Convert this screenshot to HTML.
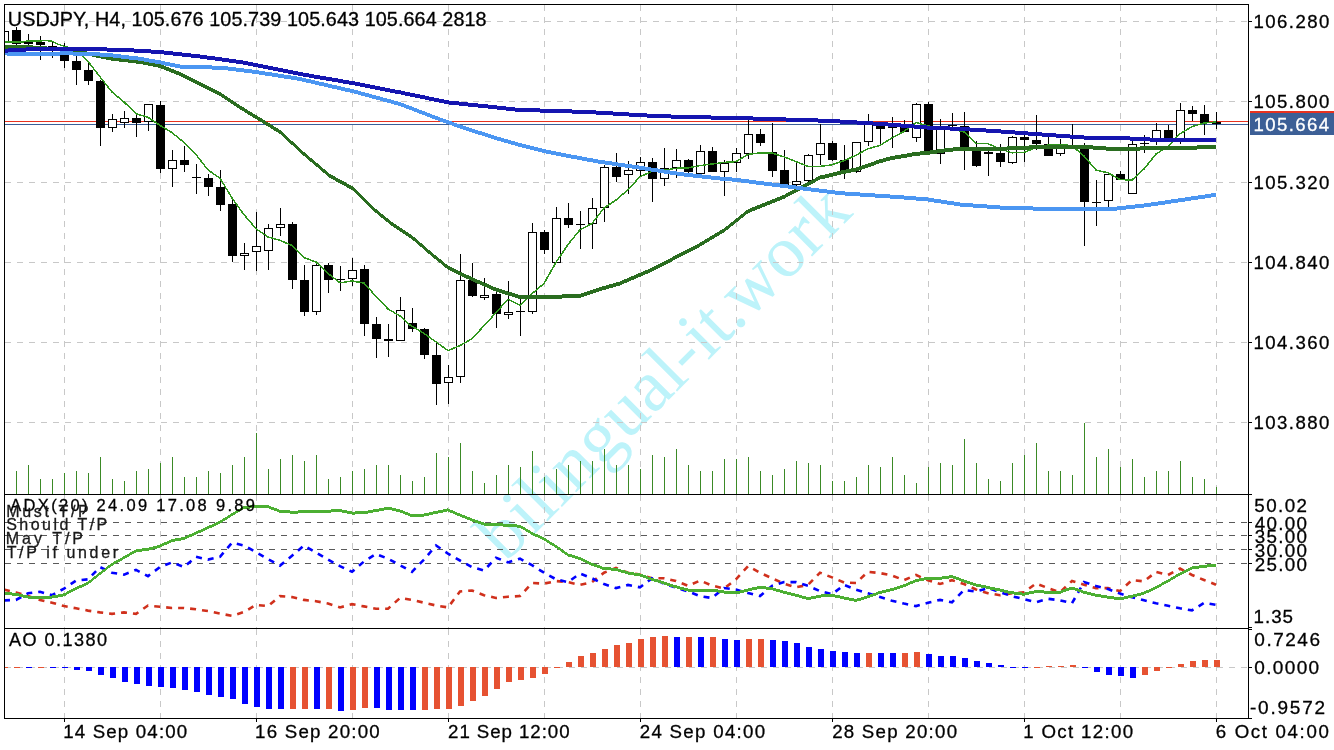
<!DOCTYPE html>
<html><head><meta charset="utf-8"><style>
html,body{margin:0;padding:0;background:#fff;width:1334px;height:750px;overflow:hidden}
svg{position:absolute;left:0;top:0;will-change:transform}
.t{position:absolute;font-family:"Liberation Sans",sans-serif;white-space:pre;line-height:1;color:#000}
</style></head><body>
<svg width="1334" height="750" viewBox="0 0 1334 750">
<defs>
<clipPath id="clipMain"><rect x="5" y="5" width="1243" height="489"/></clipPath>
<clipPath id="clipAdx"><rect x="5" y="495" width="1243" height="133"/></clipPath>
<clipPath id="clipAll"><rect x="5" y="5" width="1243" height="713"/></clipPath>
</defs>
<g clip-path="url(#clipAll)"><text x="0" y="0" transform="translate(505.8 562.9) rotate(-45.03)" font-family="Liberation Serif, serif" font-size="73.5" fill="#bdf3fa" letter-spacing="0">bilingual-it.<tspan dx="-3">work</tspan></text></g>
<g stroke="#c8c8c8" stroke-width="1" stroke-dasharray="6 6" fill="none" shape-rendering="crispEdges"><path d="M5 21.5H1248" /><path d="M5 101.5H1248" /><path d="M5 182.5H1248" /><path d="M5 262.5H1248" /><path d="M5 342.5H1248" /><path d="M5 422.5H1248" /><path d="M64.5 5V494" /><path d="M64.5 495V628" /><path d="M64.5 629V718" /><path d="M160.5 5V494" /><path d="M160.5 495V628" /><path d="M160.5 629V718" /><path d="M256.5 5V494" /><path d="M256.5 495V628" /><path d="M256.5 629V718" /><path d="M352.5 5V494" /><path d="M352.5 495V628" /><path d="M352.5 629V718" /><path d="M448.5 5V494" /><path d="M448.5 495V628" /><path d="M448.5 629V718" /><path d="M544.5 5V494" /><path d="M544.5 495V628" /><path d="M544.5 629V718" /><path d="M640.5 5V494" /><path d="M640.5 495V628" /><path d="M640.5 629V718" /><path d="M736.5 5V494" /><path d="M736.5 495V628" /><path d="M736.5 629V718" /><path d="M832.5 5V494" /><path d="M832.5 495V628" /><path d="M832.5 629V718" /><path d="M928.5 5V494" /><path d="M928.5 495V628" /><path d="M928.5 629V718" /><path d="M1024.5 5V494" /><path d="M1024.5 495V628" /><path d="M1024.5 629V718" /><path d="M1120.5 5V494" /><path d="M1120.5 495V628" /><path d="M1120.5 629V718" /><path d="M1216.5 5V494" /><path d="M1216.5 495V628" /><path d="M1216.5 629V718" /><path d="M5 667.5H1248" /></g>
<g stroke="#5a5a5a" stroke-width="1" stroke-dasharray="6 6" fill="none" shape-rendering="crispEdges"><path d="M5 522.5H1248" /><path d="M5 535.5H1248" /><path d="M5 549.5H1248" /><path d="M5 563.5H1248" /></g>
<rect x="5" y="121" width="1243" height="1" fill="#e8321f"/>
<rect x="5" y="124" width="1243" height="1" fill="#3a5f98"/>
<path d="M16.5 471V494M28.5 465V494M40.5 479V494M52.5 479V494M64.5 473V494M76.5 471V494M88.5 473V494M100.5 457V494M112.5 479V494M124.5 481V494M136.5 471V494M148.5 469V494M160.5 463V494M172.5 457V494M184.5 477V494M196.5 477V494M208.5 471V494M220.5 473V494M232.5 465V494M244.5 457V494M256.5 433V494M268.5 469V494M280.5 459V494M292.5 455V494M304.5 461V494M316.5 455V494M328.5 479V494M340.5 477V494M352.5 471V494M364.5 469V494M376.5 465V494M388.5 465V494M400.5 475V494M412.5 481V494M424.5 477V494M436.5 453V494M448.5 457V494M460.5 443V494M472.5 471V494M484.5 483V494M496.5 475V494M508.5 465V494M520.5 467V494M532.5 451V494M544.5 477V494M556.5 469V494M568.5 465V494M580.5 461V494M592.5 461V494M604.5 449V494M616.5 465V494M628.5 465V494M640.5 469V494M652.5 455V494M664.5 457V494M676.5 449V494M688.5 465V494M700.5 471V494M712.5 471V494M724.5 459V494M736.5 459V494M748.5 457V494M760.5 471V494M772.5 475V494M784.5 469V494M796.5 461V494M808.5 463V494M820.5 465V494M832.5 481V494M844.5 481V494M856.5 477V494M868.5 465V494M880.5 467V494M892.5 457V494M904.5 475V494M916.5 483V494M928.5 467V494M940.5 463V494M952.5 465V494M964.5 439V494M976.5 463V494M988.5 479V494M1000.5 481V494M1012.5 463V494M1024.5 455V494M1036.5 443V494M1048.5 471V494M1060.5 471V494M1072.5 475V494M1084.5 423V494M1096.5 457V494M1108.5 449V494M1120.5 467V494M1132.5 459V494M1144.5 477V494M1156.5 471V494M1168.5 471V494M1180.5 461V494M1192.5 477V494M1204.5 479V494M1216.5 487V494" stroke="#3b8a26" stroke-width="1" fill="none" shape-rendering="crispEdges"/>
<g clip-path="url(#clipMain)" shape-rendering="crispEdges"><rect x="4" y="29" width="1" height="16" fill="#000"/><rect x="0.5" y="31.5" width="8" height="11" fill="#fff" stroke="#000" stroke-width="1"/><rect x="16" y="27" width="1" height="19" fill="#000"/><rect x="12" y="30" width="9" height="14" fill="#000"/><rect x="28" y="34" width="1" height="12" fill="#000"/><rect x="24" y="42" width="9" height="2" fill="#000"/><rect x="40" y="36" width="1" height="24" fill="#000"/><rect x="36" y="42" width="9" height="3" fill="#000"/><rect x="52" y="42" width="1" height="16" fill="#000"/><rect x="48" y="46" width="9" height="1" fill="#000"/><rect x="64" y="43" width="1" height="25" fill="#000"/><rect x="60" y="47" width="9" height="14" fill="#000"/><rect x="76" y="56" width="1" height="29" fill="#000"/><rect x="72" y="61" width="9" height="9" fill="#000"/><rect x="88" y="62" width="1" height="23" fill="#000"/><rect x="84" y="70" width="9" height="11" fill="#000"/><rect x="100" y="80" width="1" height="66" fill="#000"/><rect x="96" y="81" width="9" height="47" fill="#000"/><rect x="112" y="114" width="1" height="18" fill="#000"/><rect x="108.5" y="119.5" width="8" height="8" fill="#fff" stroke="#000" stroke-width="1"/><rect x="124" y="111" width="1" height="17" fill="#000"/><rect x="120.5" y="118.5" width="8" height="4" fill="#fff" stroke="#000" stroke-width="1"/><rect x="136" y="115" width="1" height="22" fill="#000"/><rect x="132" y="118" width="9" height="5" fill="#000"/><rect x="148" y="104" width="1" height="27" fill="#000"/><rect x="144.5" y="104.5" width="8" height="17" fill="#fff" stroke="#000" stroke-width="1"/><rect x="160" y="101" width="1" height="72" fill="#000"/><rect x="156" y="105" width="9" height="64" fill="#000"/><rect x="172" y="150" width="1" height="37" fill="#000"/><rect x="168.5" y="160.5" width="8" height="8" fill="#fff" stroke="#000" stroke-width="1"/><rect x="184" y="146" width="1" height="26" fill="#000"/><rect x="180" y="160" width="9" height="5" fill="#000"/><rect x="196" y="164" width="1" height="30" fill="#000"/><rect x="192" y="177" width="9" height="1" fill="#000"/><rect x="208" y="174" width="1" height="22" fill="#000"/><rect x="204" y="178" width="9" height="9" fill="#000"/><rect x="220" y="170" width="1" height="41" fill="#000"/><rect x="216" y="187" width="9" height="18" fill="#000"/><rect x="232" y="200" width="1" height="62" fill="#000"/><rect x="228" y="204" width="9" height="52" fill="#000"/><rect x="244" y="243" width="1" height="27" fill="#000"/><rect x="240.5" y="253.5" width="8" height="2" fill="#fff" stroke="#000" stroke-width="1"/><rect x="256" y="212" width="1" height="59" fill="#000"/><rect x="252.5" y="246.5" width="8" height="5" fill="#fff" stroke="#000" stroke-width="1"/><rect x="268" y="224" width="1" height="46" fill="#000"/><rect x="264.5" y="228.5" width="8" height="22" fill="#fff" stroke="#000" stroke-width="1"/><rect x="280" y="208" width="1" height="28" fill="#000"/><rect x="276.5" y="224.5" width="8" height="3" fill="#fff" stroke="#000" stroke-width="1"/><rect x="292" y="222" width="1" height="67" fill="#000"/><rect x="288" y="224" width="9" height="56" fill="#000"/><rect x="304" y="265" width="1" height="51" fill="#000"/><rect x="300" y="280" width="9" height="32" fill="#000"/><rect x="316" y="263" width="1" height="52" fill="#000"/><rect x="312.5" y="265.5" width="8" height="46" fill="#fff" stroke="#000" stroke-width="1"/><rect x="328" y="263" width="1" height="30" fill="#000"/><rect x="324" y="265" width="9" height="15" fill="#000"/><rect x="340" y="266" width="1" height="25" fill="#000"/><rect x="336" y="279" width="9" height="1" fill="#000"/><rect x="352" y="258" width="1" height="28" fill="#000"/><rect x="348.5" y="270.5" width="8" height="8" fill="#fff" stroke="#000" stroke-width="1"/><rect x="364" y="265" width="1" height="71" fill="#000"/><rect x="360" y="269" width="9" height="55" fill="#000"/><rect x="376" y="317" width="1" height="41" fill="#000"/><rect x="372" y="324" width="9" height="15" fill="#000"/><rect x="388" y="324" width="1" height="33" fill="#000"/><rect x="384" y="339" width="9" height="2" fill="#000"/><rect x="400" y="297" width="1" height="44" fill="#000"/><rect x="396.5" y="310.5" width="8" height="30" fill="#fff" stroke="#000" stroke-width="1"/><rect x="412" y="308" width="1" height="24" fill="#000"/><rect x="408" y="323" width="9" height="6" fill="#000"/><rect x="424" y="328" width="1" height="31" fill="#000"/><rect x="420" y="329" width="9" height="26" fill="#000"/><rect x="436" y="341" width="1" height="64" fill="#000"/><rect x="432" y="355" width="9" height="29" fill="#000"/><rect x="448" y="365" width="1" height="39" fill="#000"/><rect x="444.5" y="377.5" width="8" height="5" fill="#fff" stroke="#000" stroke-width="1"/><rect x="460" y="254" width="1" height="129" fill="#000"/><rect x="456.5" y="280.5" width="8" height="96" fill="#fff" stroke="#000" stroke-width="1"/><rect x="472" y="263" width="1" height="34" fill="#000"/><rect x="468" y="280" width="9" height="16" fill="#000"/><rect x="484" y="278" width="1" height="22" fill="#000"/><rect x="480.5" y="295.5" width="8" height="2" fill="#fff" stroke="#000" stroke-width="1"/><rect x="496" y="292" width="1" height="36" fill="#000"/><rect x="492" y="294" width="9" height="20" fill="#000"/><rect x="508" y="281" width="1" height="38" fill="#000"/><rect x="504.5" y="312.5" width="8" height="2" fill="#fff" stroke="#000" stroke-width="1"/><rect x="520" y="299" width="1" height="37" fill="#000"/><rect x="516" y="311" width="9" height="1" fill="#000"/><rect x="532" y="223" width="1" height="91" fill="#000"/><rect x="528.5" y="232.5" width="8" height="79" fill="#fff" stroke="#000" stroke-width="1"/><rect x="544" y="230" width="1" height="24" fill="#000"/><rect x="540" y="232" width="9" height="18" fill="#000"/><rect x="556" y="207" width="1" height="56" fill="#000"/><rect x="552.5" y="218.5" width="8" height="44" fill="#fff" stroke="#000" stroke-width="1"/><rect x="568" y="203" width="1" height="25" fill="#000"/><rect x="564" y="218" width="9" height="7" fill="#000"/><rect x="580" y="211" width="1" height="38" fill="#000"/><rect x="576" y="224" width="9" height="1" fill="#000"/><rect x="592" y="198" width="1" height="51" fill="#000"/><rect x="588.5" y="208.5" width="8" height="15" fill="#fff" stroke="#000" stroke-width="1"/><rect x="604" y="165" width="1" height="57" fill="#000"/><rect x="600.5" y="167.5" width="8" height="40" fill="#fff" stroke="#000" stroke-width="1"/><rect x="616" y="153" width="1" height="29" fill="#000"/><rect x="612" y="167" width="9" height="10" fill="#000"/><rect x="628" y="161" width="1" height="33" fill="#000"/><rect x="624.5" y="170.5" width="8" height="4" fill="#fff" stroke="#000" stroke-width="1"/><rect x="640" y="157" width="1" height="19" fill="#000"/><rect x="636.5" y="162.5" width="8" height="8" fill="#fff" stroke="#000" stroke-width="1"/><rect x="652" y="158" width="1" height="44" fill="#000"/><rect x="648" y="162" width="9" height="17" fill="#000"/><rect x="664" y="148" width="1" height="38" fill="#000"/><rect x="660.5" y="168.5" width="8" height="10" fill="#fff" stroke="#000" stroke-width="1"/><rect x="676" y="149" width="1" height="29" fill="#000"/><rect x="672.5" y="160.5" width="8" height="7" fill="#fff" stroke="#000" stroke-width="1"/><rect x="688" y="159" width="1" height="16" fill="#000"/><rect x="684" y="160" width="9" height="12" fill="#000"/><rect x="700" y="145" width="1" height="30" fill="#000"/><rect x="696.5" y="151.5" width="8" height="22" fill="#fff" stroke="#000" stroke-width="1"/><rect x="712" y="147" width="1" height="25" fill="#000"/><rect x="708" y="151" width="9" height="21" fill="#000"/><rect x="724" y="160" width="1" height="36" fill="#000"/><rect x="720.5" y="163.5" width="8" height="8" fill="#fff" stroke="#000" stroke-width="1"/><rect x="736" y="148" width="1" height="24" fill="#000"/><rect x="732.5" y="153.5" width="8" height="9" fill="#fff" stroke="#000" stroke-width="1"/><rect x="748" y="119" width="1" height="40" fill="#000"/><rect x="744.5" y="134.5" width="8" height="19" fill="#fff" stroke="#000" stroke-width="1"/><rect x="760" y="129" width="1" height="17" fill="#000"/><rect x="756" y="134" width="9" height="9" fill="#000"/><rect x="772" y="123" width="1" height="54" fill="#000"/><rect x="768" y="152" width="9" height="19" fill="#000"/><rect x="784" y="150" width="1" height="35" fill="#000"/><rect x="780" y="170" width="9" height="15" fill="#000"/><rect x="796" y="161" width="1" height="25" fill="#000"/><rect x="792.5" y="181.5" width="8" height="3" fill="#fff" stroke="#000" stroke-width="1"/><rect x="808" y="154" width="1" height="30" fill="#000"/><rect x="804.5" y="155.5" width="8" height="25" fill="#fff" stroke="#000" stroke-width="1"/><rect x="820" y="124" width="1" height="41" fill="#000"/><rect x="816.5" y="143.5" width="8" height="11" fill="#fff" stroke="#000" stroke-width="1"/><rect x="832" y="141" width="1" height="20" fill="#000"/><rect x="828" y="143" width="9" height="17" fill="#000"/><rect x="844" y="145" width="1" height="34" fill="#000"/><rect x="840" y="160" width="9" height="11" fill="#000"/><rect x="856" y="142" width="1" height="31" fill="#000"/><rect x="852.5" y="142.5" width="8" height="29" fill="#fff" stroke="#000" stroke-width="1"/><rect x="868" y="114" width="1" height="32" fill="#000"/><rect x="864.5" y="124.5" width="8" height="17" fill="#fff" stroke="#000" stroke-width="1"/><rect x="880" y="123" width="1" height="22" fill="#000"/><rect x="876" y="124" width="9" height="5" fill="#000"/><rect x="892" y="117" width="1" height="31" fill="#000"/><rect x="888" y="126" width="9" height="2" fill="#000"/><rect x="904" y="120" width="1" height="12" fill="#000"/><rect x="900" y="127" width="9" height="5" fill="#000"/><rect x="916" y="103" width="1" height="39" fill="#000"/><rect x="912.5" y="104.5" width="8" height="33" fill="#fff" stroke="#000" stroke-width="1"/><rect x="928" y="102" width="1" height="50" fill="#000"/><rect x="924" y="104" width="9" height="48" fill="#000"/><rect x="940" y="119" width="1" height="45" fill="#000"/><rect x="936.5" y="129.5" width="8" height="24" fill="#fff" stroke="#000" stroke-width="1"/><rect x="952" y="113" width="1" height="14" fill="#000"/><rect x="948" y="125" width="9" height="1" fill="#000"/><rect x="964" y="112" width="1" height="58" fill="#000"/><rect x="960" y="126" width="9" height="21" fill="#000"/><rect x="976" y="141" width="1" height="26" fill="#000"/><rect x="972" y="150" width="9" height="16" fill="#000"/><rect x="988" y="149" width="1" height="27" fill="#000"/><rect x="984" y="152" width="9" height="2" fill="#000"/><rect x="1000" y="144" width="1" height="23" fill="#000"/><rect x="996" y="153" width="9" height="9" fill="#000"/><rect x="1012" y="136" width="1" height="28" fill="#000"/><rect x="1008.5" y="137.5" width="8" height="25" fill="#fff" stroke="#000" stroke-width="1"/><rect x="1024" y="134" width="1" height="28" fill="#000"/><rect x="1020" y="137" width="9" height="3" fill="#000"/><rect x="1036" y="115" width="1" height="35" fill="#000"/><rect x="1032" y="140" width="9" height="4" fill="#000"/><rect x="1048" y="137" width="1" height="19" fill="#000"/><rect x="1044" y="144" width="9" height="12" fill="#000"/><rect x="1060" y="139" width="1" height="17" fill="#000"/><rect x="1056.5" y="144.5" width="8" height="9" fill="#fff" stroke="#000" stroke-width="1"/><rect x="1072" y="124" width="1" height="25" fill="#000"/><rect x="1068" y="146" width="9" height="1" fill="#000"/><rect x="1084" y="143" width="1" height="103" fill="#000"/><rect x="1080" y="147" width="9" height="55" fill="#000"/><rect x="1096" y="180" width="1" height="46" fill="#000"/><rect x="1092" y="202" width="9" height="1" fill="#000"/><rect x="1108" y="172" width="1" height="35" fill="#000"/><rect x="1104.5" y="174.5" width="8" height="26" fill="#fff" stroke="#000" stroke-width="1"/><rect x="1120" y="171" width="1" height="9" fill="#000"/><rect x="1116" y="174" width="9" height="6" fill="#000"/><rect x="1132" y="140" width="1" height="54" fill="#000"/><rect x="1128.5" y="144.5" width="8" height="49" fill="#fff" stroke="#000" stroke-width="1"/><rect x="1144" y="135" width="1" height="18" fill="#000"/><rect x="1140" y="143" width="9" height="1" fill="#000"/><rect x="1156" y="123" width="1" height="22" fill="#000"/><rect x="1152.5" y="130.5" width="8" height="11" fill="#fff" stroke="#000" stroke-width="1"/><rect x="1168" y="125" width="1" height="17" fill="#000"/><rect x="1164" y="130" width="9" height="8" fill="#000"/><rect x="1180" y="103" width="1" height="41" fill="#000"/><rect x="1176.5" y="110.5" width="8" height="29" fill="#fff" stroke="#000" stroke-width="1"/><rect x="1192" y="106" width="1" height="15" fill="#000"/><rect x="1188" y="110" width="9" height="4" fill="#000"/><rect x="1204" y="105" width="1" height="30" fill="#000"/><rect x="1200" y="114" width="9" height="9" fill="#000"/><rect x="1216" y="112" width="1" height="17" fill="#000"/><rect x="1212" y="122" width="9" height="2" fill="#000"/></g>
<g clip-path="url(#clipMain)" stroke="none" shape-rendering="crispEdges">
<polyline points="4,41.8 24,41.8 27,40.9 48,40.7 52,41.3 58,44.2 64,46.2 76,49.8 88,61.5 100,76.8 112,92 124,102 136,113.7 148,117.3 160,125.4 172,132.6 184,142.5 196,154.6 208,169.9 220,178.3 232,197.9 244,214.7 256,228.7 268,237 280,240.3 292,245.5 304,257.6 316,262 328,273.5 340,282.8 352,281 364,283 376,296.5 388,309 400,316 410,325 424,333.5 436,341.9 448,350.6 460,345.6 472,338.7 489,320.4 508,299.2 520,305.4 532,293.8 544,283.4 556,262.4 568,244.5 580,229.8 592,223.5 604,208 616,200 628,189.7 640,176.7 652,171.4 664,170.1 676,168.3 688,167.9 700,165.6 724,162.4 736,161.6 748,154.4 760,152.8 772,153.1 784,156.8 796,161.6 808,166.4 820,166.4 832,164.8 844,160.8 856,155.2 868,148.8 880,145.4 892,137.9 904,131.4 916,122.5 928,126 940,128 952,129 964,131.9 976,143.7 988,143.7 1000,148.9 1012,152.8 1024,152.3 1036,147.6 1048,145 1060,144.4 1072,145.7 1084,156 1096,170 1108,172.8 1120,179.6 1132,180 1144,169 1156,154 1168,146.5 1180,133.7 1192,126.7 1204,123 1216,122" fill="none" stroke="#2f961c" stroke-width="1.5" shape-rendering="crispEdges"/>
<polygon points="4,45.10 28,45.10 64,47.80 82,50.50 110,56.40 140,60.00 160,64.00 180,72.00 200,82.00 220,92.00 240,105.40 256,115.00 264,120.00 280,130.00 304,152.00 330,174.00 352,186.00 376,209.00 390,220.50 412,235.20 430,250.90 448,265.60 472,277.20 496,287.60 520,295.20 544,295.00 580,294.00 600,287.20 620,281.40 652,267.60 700,242.80 724,228.40 748,209.20 772,199.60 784,194.80 796,188.40 808,182.00 820,175.60 840,170.80 856,167.60 868,163.60 880,159.20 892,156.00 904,154.00 916,151.80 928,150.80 940,149.00 960,146.70 1000,146.80 1050,144.60 1076,145.00 1090,145.30 1120,147.50 1150,146.00 1216,145.30 1216,149.30 1150,150.00 1120,151.50 1090,149.30 1076,149.00 1050,148.60 1000,150.80 960,150.70 940,153.00 928,154.80 916,155.80 904,158.00 892,160.00 880,163.20 868,167.60 856,171.60 840,174.80 820,179.60 808,186.00 796,192.40 784,198.80 772,203.60 748,213.20 724,232.40 700,246.80 652,271.60 620,285.40 600,291.20 580,298.00 544,299.00 520,299.20 496,291.60 472,281.20 448,269.60 430,254.90 412,239.20 390,224.50 376,213.00 352,190.00 330,178.00 304,156.00 280,134.00 264,124.00 256,119.00 240,109.40 220,96.00 200,86.00 180,76.00 160,68.00 140,64.00 110,60.40 82,54.50 64,51.80 28,49.10 4,49.10" fill="#2a6d20"/>
<polygon points="4,51.40 28,52.30 64,51.40 88,51.70 110,53.20 140,56.80 160,60.40 180,64.50 200,65.00 224,66.00 256,70.00 300,77.00 352,89.00 400,102.00 440,117.40 460,124.50 480,131.00 500,137.30 520,143.00 548,149.90 580,156.20 600,159.80 640,165.70 680,172.00 720,176.50 736,177.90 790,184.80 840,191.20 900,195.20 928,197.50 960,202.50 1000,205.50 1036,206.60 1090,207.00 1117,206.50 1140,204.00 1168,200.00 1216,192.80 1216,196.80 1168,204.00 1140,208.00 1117,210.50 1090,211.00 1036,210.60 1000,209.50 960,206.50 928,201.50 900,199.20 840,195.20 790,188.80 736,181.90 720,180.50 680,176.00 640,169.70 600,163.80 580,160.20 548,153.90 520,147.00 500,141.30 480,135.00 460,128.50 440,121.40 400,106.00 352,93.00 300,81.00 256,74.00 224,70.00 200,69.00 180,68.50 160,64.40 140,60.80 110,57.20 88,55.70 64,55.40 28,56.30 4,55.40" fill="#4b96f2"/>
<polygon points="4,48.70 28,47.40 64,46.90 88,46.90 128,48.20 160,50.00 200,54.50 240,60.00 256,63.00 300,72.00 352,81.00 400,90.40 448,100.40 480,103.70 520,108.00 560,109.00 600,110.70 640,113.20 680,114.90 720,115.70 760,116.70 830,118.90 880,121.90 928,125.60 960,126.90 1000,129.40 1050,133.10 1090,135.90 1120,136.00 1150,137.50 1216,138.10 1216,142.10 1150,141.50 1120,140.00 1090,139.90 1050,137.10 1000,133.40 960,130.90 928,129.60 880,125.90 830,122.90 760,120.70 720,119.70 680,118.90 640,117.20 600,114.70 560,113.00 520,112.00 480,107.70 448,104.40 400,94.40 352,85.00 300,76.00 256,67.00 240,64.00 200,58.50 160,54.00 128,52.20 88,50.90 64,50.90 28,51.40 4,52.70" fill="#1515b0"/>
</g>
<g clip-path="url(#clipAdx)" fill="none">
<polyline points="4,589.6 16,592.4 28,596.1 40,599.9 52,602.7 64,606.1 76,608.3 88,610.6 100,612.4 112,613.9 124,612.4 136,613.9 148,605.5 160,606.8 172,608 184,608 196,609.3 208,611.1 220,613.6 232,615.8 244,612 256,604.9 268,606.1 280,596.1 292,597.1 304,599.9 316,601.2 328,603.6 340,607.4 352,604.2 364,606.4 376,608.7 388,608.7 400,598 412,599.9 424,602.7 436,605.5 448,607.4 460,591.5 472,590.5 484,595.2 496,598 508,596.7 520,596.1 532,583 544,583.6 556,581.1 568,582.1 580,584.9 592,582.1 604,572.7 616,568 628,572.7 640,574.6 652,578.3 664,578.3 676,581.1 688,585.8 700,580.6 712,585.5 724,588.6 736,579.3 748,566.2 760,572.7 772,578.3 784,583.6 796,587.3 808,584.9 820,572.7 832,577.4 844,582.5 856,583 868,571.8 880,573.1 892,575.5 904,580.2 916,575 928,580.2 940,584 952,580.2 964,584 976,589.5 988,593.2 1000,595.2 1012,593.2 1024,592.2 1036,583.5 1048,588.1 1060,592.2 1072,581 1084,584.7 1096,588.1 1108,588.1 1120,591.1 1132,580 1144,581.4 1156,571.9 1168,575 1180,568.5 1192,575 1204,580 1216,584.7" stroke="#d0301c" stroke-width="2.6" stroke-dasharray="6 6"/>
<polyline points="4,600.4 16,599.9 28,593.3 40,591.8 52,595.2 64,588.6 76,580.6 88,579.3 100,567.1 112,572.7 124,574.6 136,569.9 148,576.1 160,567.1 172,562.4 184,567.1 196,556.8 208,559.6 220,556.8 232,542.7 244,545.5 256,552.1 268,559.2 280,565.6 292,555.8 304,545.5 316,552.5 328,559.6 340,566.2 352,571.8 364,561.5 376,554 388,558.7 400,565.2 412,571.8 424,559.6 436,545.5 448,553.6 460,560.5 472,567.1 484,570.6 496,557.7 508,562.4 520,558.7 532,565.2 544,572.7 556,579.3 568,582.1 580,573.6 592,578.3 604,584 616,588.1 628,584.9 640,587.3 652,578.3 664,583.6 676,587.7 688,591.5 700,596.1 712,598 724,588 736,589.6 748,593 760,596.1 772,585.8 784,582.1 796,582.1 808,585.8 820,591.1 832,594.3 844,584.9 856,589.6 868,593.3 880,597.1 892,600.8 904,603.6 916,606.1 928,602.7 940,599.9 952,602.3 964,590 976,591.6 988,588.1 1000,592.2 1012,596.2 1024,599.2 1036,602.3 1048,598.8 1060,600.3 1072,603.3 1084,582 1096,586.1 1108,589.1 1120,593.6 1132,597.2 1144,600.3 1156,603.3 1168,605.7 1180,608.3 1192,610.4 1204,602.9 1216,604.9" stroke="#0000ff" stroke-width="2.6" stroke-dasharray="6 6"/>
<polygon points="4,591.80 16,592.80 28,595.60 40,595.60 52,595.60 64,593.30 76,587.10 88,581.50 100,572.10 112,562.80 124,556.20 136,549.30 148,547.80 160,544.60 172,539.00 184,536.90 196,531.50 208,526.20 220,520.60 232,513.10 244,505.80 256,505.20 268,505.20 280,509.70 292,510.70 304,510.30 316,509.90 328,509.70 340,509.00 352,511.60 364,511.20 376,509.00 388,506.70 400,509.40 412,514.20 424,513.50 436,510.90 448,508.40 460,513.70 472,518.40 484,522.50 496,522.90 508,524.00 520,524.70 532,531.90 544,537.50 556,545.00 568,553.40 580,557.20 592,562.80 604,567.10 616,567.80 628,571.60 640,573.50 652,577.80 664,581.50 676,585.30 688,588.50 700,588.50 712,588.50 724,590.50 736,591.40 748,588.50 760,585.80 772,587.10 784,590.90 796,593.70 808,597.10 820,594.60 832,593.70 844,596.50 856,598.90 868,595.20 880,590.90 892,588.10 904,584.30 916,579.10 928,576.80 940,576.80 952,575.00 964,579.50 976,583.60 988,586.00 1000,588.60 1012,591.30 1024,592.70 1036,590.10 1048,590.70 1060,590.70 1072,586.60 1084,590.70 1096,593.70 1108,595.70 1120,597.30 1132,594.70 1144,591.70 1156,586.00 1168,579.50 1180,572.40 1192,566.40 1204,564.80 1216,563.70 1216,566.70 1204,567.80 1192,569.40 1180,575.40 1168,582.50 1156,589.00 1144,594.70 1132,597.70 1120,600.30 1108,598.70 1096,596.70 1084,593.70 1072,589.60 1060,593.70 1048,593.70 1036,593.10 1024,595.70 1012,594.30 1000,591.60 988,589.00 976,586.60 964,582.50 952,578.00 940,579.80 928,579.80 916,582.10 904,587.30 892,591.10 880,593.90 868,598.20 856,601.90 844,599.50 832,596.70 820,597.60 808,600.10 796,596.70 784,593.90 772,590.10 760,588.80 748,591.50 736,594.40 724,593.50 712,591.50 700,591.50 688,591.50 676,588.30 664,584.50 652,580.80 640,576.50 628,574.60 616,570.80 604,570.10 592,565.80 580,560.20 568,556.40 556,548.00 544,540.50 532,534.90 520,527.70 508,527.00 496,525.90 484,525.50 472,521.40 460,516.70 448,511.40 436,513.90 424,516.50 412,517.20 400,512.40 388,509.70 376,512.00 364,514.20 352,514.60 340,512.00 328,512.70 316,512.90 304,513.30 292,513.70 280,512.70 268,508.20 256,508.20 244,508.80 232,516.10 220,523.60 208,529.20 196,534.50 184,539.90 172,542.00 160,547.60 148,550.80 136,552.30 124,559.20 112,565.80 100,575.10 88,584.50 76,590.10 64,596.30 52,598.60 40,598.60 28,598.60 16,595.80 4,594.80" fill="#4caf32" stroke="none" shape-rendering="crispEdges"/>
</g>
<g shape-rendering="crispEdges"><rect x="5" y="667" width="3" height="1" fill="#e65232"/><rect x="14" y="667" width="6" height="1" fill="#e65232"/><rect x="26" y="667" width="6" height="1" fill="#0000ff"/><rect x="38" y="667" width="6" height="1" fill="#e65232"/><rect x="50" y="667" width="6" height="1" fill="#0000ff"/><rect x="62" y="667" width="6" height="1" fill="#0000ff"/><rect x="74" y="667" width="6" height="3" fill="#0000ff"/><rect x="86" y="667" width="6" height="4" fill="#0000ff"/><rect x="98" y="667" width="6" height="8" fill="#0000ff"/><rect x="110" y="667" width="6" height="11" fill="#0000ff"/><rect x="122" y="667" width="6" height="15" fill="#0000ff"/><rect x="134" y="667" width="6" height="17" fill="#0000ff"/><rect x="146" y="667" width="6" height="19" fill="#0000ff"/><rect x="158" y="667" width="6" height="20" fill="#0000ff"/><rect x="170" y="667" width="6" height="21" fill="#0000ff"/><rect x="182" y="667" width="6" height="23" fill="#0000ff"/><rect x="194" y="667" width="6" height="25" fill="#0000ff"/><rect x="206" y="667" width="6" height="28" fill="#0000ff"/><rect x="218" y="667" width="6" height="30" fill="#0000ff"/><rect x="230" y="667" width="6" height="32" fill="#0000ff"/><rect x="242" y="667" width="6" height="37" fill="#0000ff"/><rect x="254" y="667" width="6" height="40" fill="#0000ff"/><rect x="266" y="667" width="6" height="42" fill="#0000ff"/><rect x="278" y="667" width="6" height="42" fill="#0000ff"/><rect x="290" y="667" width="6" height="42" fill="#e65232"/><rect x="302" y="667" width="6" height="42" fill="#e65232"/><rect x="314" y="667" width="6" height="42" fill="#0000ff"/><rect x="326" y="667" width="6" height="42" fill="#e65232"/><rect x="338" y="667" width="6" height="44" fill="#0000ff"/><rect x="350" y="667" width="6" height="43" fill="#e65232"/><rect x="362" y="667" width="6" height="41" fill="#e65232"/><rect x="374" y="667" width="6" height="41" fill="#0000ff"/><rect x="386" y="667" width="6" height="43" fill="#0000ff"/><rect x="398" y="667" width="6" height="43" fill="#0000ff"/><rect x="410" y="667" width="6" height="43" fill="#0000ff"/><rect x="422" y="667" width="6" height="43" fill="#e65232"/><rect x="434" y="667" width="6" height="42" fill="#e65232"/><rect x="446" y="667" width="6" height="42" fill="#e65232"/><rect x="458" y="667" width="6" height="39" fill="#e65232"/><rect x="470" y="667" width="6" height="34" fill="#e65232"/><rect x="482" y="667" width="6" height="29" fill="#e65232"/><rect x="494" y="667" width="6" height="22" fill="#e65232"/><rect x="506" y="667" width="6" height="15" fill="#e65232"/><rect x="518" y="667" width="6" height="13" fill="#e65232"/><rect x="530" y="667" width="6" height="11" fill="#e65232"/><rect x="542" y="667" width="6" height="7" fill="#e65232"/><rect x="554" y="667" width="6" height="1" fill="#e65232"/><rect x="566" y="662" width="6" height="5" fill="#e65232"/><rect x="578" y="656" width="6" height="11" fill="#e65232"/><rect x="590" y="653" width="6" height="14" fill="#e65232"/><rect x="602" y="649" width="6" height="18" fill="#e65232"/><rect x="614" y="645" width="6" height="22" fill="#e65232"/><rect x="626" y="643" width="6" height="24" fill="#e65232"/><rect x="638" y="639" width="6" height="28" fill="#e65232"/><rect x="650" y="637" width="6" height="30" fill="#e65232"/><rect x="662" y="636" width="6" height="31" fill="#e65232"/><rect x="674" y="637" width="6" height="30" fill="#0000ff"/><rect x="686" y="637" width="6" height="30" fill="#e65232"/><rect x="698" y="637" width="6" height="30" fill="#0000ff"/><rect x="710" y="637" width="6" height="30" fill="#e65232"/><rect x="722" y="639" width="6" height="28" fill="#0000ff"/><rect x="734" y="640" width="6" height="27" fill="#0000ff"/><rect x="746" y="639" width="6" height="28" fill="#e65232"/><rect x="758" y="639" width="6" height="28" fill="#e65232"/><rect x="770" y="640" width="6" height="27" fill="#0000ff"/><rect x="782" y="641" width="6" height="26" fill="#0000ff"/><rect x="794" y="643" width="6" height="24" fill="#0000ff"/><rect x="806" y="647" width="6" height="20" fill="#0000ff"/><rect x="818" y="649" width="6" height="18" fill="#0000ff"/><rect x="830" y="651" width="6" height="16" fill="#0000ff"/><rect x="842" y="652" width="6" height="15" fill="#0000ff"/><rect x="854" y="653" width="6" height="14" fill="#0000ff"/><rect x="866" y="653" width="6" height="14" fill="#e65232"/><rect x="878" y="653" width="6" height="14" fill="#0000ff"/><rect x="890" y="653" width="6" height="14" fill="#0000ff"/><rect x="902" y="653" width="6" height="14" fill="#e65232"/><rect x="914" y="652" width="6" height="15" fill="#e65232"/><rect x="926" y="654" width="6" height="13" fill="#0000ff"/><rect x="938" y="656" width="6" height="11" fill="#0000ff"/><rect x="950" y="656" width="6" height="11" fill="#0000ff"/><rect x="962" y="658" width="6" height="9" fill="#0000ff"/><rect x="974" y="661" width="6" height="6" fill="#0000ff"/><rect x="986" y="663" width="6" height="4" fill="#0000ff"/><rect x="998" y="665" width="6" height="2" fill="#0000ff"/><rect x="1010" y="667" width="6" height="1" fill="#0000ff"/><rect x="1022" y="667" width="6" height="1" fill="#0000ff"/><rect x="1034" y="667" width="6" height="1" fill="#e65232"/><rect x="1046" y="666" width="6" height="1" fill="#e65232"/><rect x="1058" y="666" width="6" height="1" fill="#e65232"/><rect x="1070" y="665" width="6" height="2" fill="#e65232"/><rect x="1082" y="667" width="6" height="1" fill="#0000ff"/><rect x="1094" y="667" width="6" height="5" fill="#0000ff"/><rect x="1106" y="667" width="6" height="8" fill="#0000ff"/><rect x="1118" y="667" width="6" height="9" fill="#0000ff"/><rect x="1130" y="667" width="6" height="11" fill="#0000ff"/><rect x="1142" y="667" width="6" height="8" fill="#e65232"/><rect x="1154" y="667" width="6" height="4" fill="#e65232"/><rect x="1166" y="667" width="6" height="1" fill="#e65232"/><rect x="1178" y="664" width="6" height="3" fill="#e65232"/><rect x="1190" y="661" width="6" height="6" fill="#e65232"/><rect x="1202" y="660" width="6" height="7" fill="#e65232"/><rect x="1214" y="660" width="6" height="7" fill="#e65232"/></g>
<path d="M4.5 4.5H1248.5V718.5H4.5ZM4.5 494.5H1248.5M4.5 628.5H1248.5M1249 21.5H1252M1249 101.5H1252M1249 182.5H1252M1249 262.5H1252M1249 342.5H1252M1249 422.5H1252M1249 494.5H1252M1249 522.5H1252M1249 535.5H1252M1249 549.5H1252M1249 563.5H1252M1249 627.5H1252M1249 629.5H1252M1249 667.5H1252M1249 718.5H1252M64.5 719V722M256.5 719V722M448.5 719V722M640.5 719V722M832.5 719V722M1024.5 719V722M1216.5 719V722" stroke="#000" stroke-width="1" fill="none" shape-rendering="crispEdges"/>
<rect x="1250" y="111" width="84" height="2" fill="#e8321f"/>
<rect x="1250" y="113" width="84" height="22" fill="#3c5f96"/>
<text x="7.82" y="25.8" font-family="Liberation Sans, sans-serif" font-size="19.8" letter-spacing="0.085" fill="#000" stroke="#000" stroke-width="0.3" >USDJPY, H4, 105.676 105.739 105.643 105.664 2818</text>
<text x="1253.51" y="28" font-family="Liberation Sans, sans-serif" font-size="18.6" letter-spacing="1.445" fill="#000" stroke="#000" stroke-width="0.3" >106.280</text>
<text x="1253.51" y="108" font-family="Liberation Sans, sans-serif" font-size="18.6" letter-spacing="1.445" fill="#000" stroke="#000" stroke-width="0.3" >105.800</text>
<text x="1253.51" y="189" font-family="Liberation Sans, sans-serif" font-size="18.6" letter-spacing="1.445" fill="#000" stroke="#000" stroke-width="0.3" >105.320</text>
<text x="1253.51" y="269" font-family="Liberation Sans, sans-serif" font-size="18.6" letter-spacing="1.445" fill="#000" stroke="#000" stroke-width="0.3" >104.840</text>
<text x="1253.51" y="349" font-family="Liberation Sans, sans-serif" font-size="18.6" letter-spacing="1.445" fill="#000" stroke="#000" stroke-width="0.3" >104.360</text>
<text x="1253.51" y="429" font-family="Liberation Sans, sans-serif" font-size="18.6" letter-spacing="1.445" fill="#000" stroke="#000" stroke-width="0.3" >103.880</text>
<text x="1253.51" y="131" font-family="Liberation Sans, sans-serif" font-size="18.6" letter-spacing="1.414" fill="#fff" stroke="#fff" stroke-width="0.3" >105.664</text>
<text x="10.3" y="511.3" font-family="Liberation Sans, sans-serif" font-size="16.5" letter-spacing="2.303" fill="#000" stroke="#000" stroke-width="0.3" >ADX(20) 24.09 17.08 9.89</text>
<text x="6.22" y="517.3" font-family="Liberation Sans, sans-serif" font-size="16" letter-spacing="2.68" fill="#1a1a1a" stroke="#1a1a1a" stroke-width="0.3" >Must T/P</text>
<text x="6.2" y="530.4" font-family="Liberation Sans, sans-serif" font-size="16" letter-spacing="2.464" fill="#1a1a1a" stroke="#1a1a1a" stroke-width="0.3" >Should T/P</text>
<text x="5.72" y="544.4" font-family="Liberation Sans, sans-serif" font-size="16" letter-spacing="3.007" fill="#1a1a1a" stroke="#1a1a1a" stroke-width="0.3" >May T/P</text>
<text x="6.68" y="558.4" font-family="Liberation Sans, sans-serif" font-size="16" letter-spacing="2.627" fill="#1a1a1a" stroke="#1a1a1a" stroke-width="0.3" >T/P if under</text>
<text x="1254.35" y="512" font-family="Liberation Sans, sans-serif" font-size="18.8" letter-spacing="1.42" fill="#000" stroke="#000" stroke-width="0.3" >50.02</text>
<text x="1254.72" y="529.5" font-family="Liberation Sans, sans-serif" font-size="18.8" letter-spacing="1.279" fill="#000" stroke="#000" stroke-width="0.3" >40.00</text>
<text x="1254.72" y="542.5" font-family="Liberation Sans, sans-serif" font-size="18.8" letter-spacing="1.279" fill="#000" stroke="#000" stroke-width="0.3" >35.00</text>
<text x="1254.72" y="556.5" font-family="Liberation Sans, sans-serif" font-size="18.8" letter-spacing="1.279" fill="#000" stroke="#000" stroke-width="0.3" >30.00</text>
<text x="1254.72" y="570.5" font-family="Liberation Sans, sans-serif" font-size="18.8" letter-spacing="1.279" fill="#000" stroke="#000" stroke-width="0.3" >25.00</text>
<text x="1253.5" y="623" font-family="Liberation Sans, sans-serif" font-size="18.8" letter-spacing="0.991" fill="#000" stroke="#000" stroke-width="0.3" >1.35</text>
<text x="8.9" y="646.1" font-family="Liberation Sans, sans-serif" font-size="18.1" letter-spacing="1.473" fill="#000" stroke="#000" stroke-width="0.3" >AO 0.1380</text>
<text x="1254.34" y="646.4" font-family="Liberation Sans, sans-serif" font-size="19.0" letter-spacing="1.512" fill="#000" stroke="#000" stroke-width="0.3" >0.7246</text>
<text x="1254.34" y="674" font-family="Liberation Sans, sans-serif" font-size="19.0" letter-spacing="1.334" fill="#000" stroke="#000" stroke-width="0.3" >0.0000</text>
<text x="1249.94" y="714" font-family="Liberation Sans, sans-serif" font-size="19.0" letter-spacing="1.798" fill="#000" stroke="#000" stroke-width="0.3" >-0.9572</text>
<text x="63.2" y="738" font-family="Liberation Sans, sans-serif" font-size="18.7" letter-spacing="1.17" fill="#000" stroke="#000" stroke-width="0.3" >14 Sep 04:00</text>
<text x="255.1" y="738" font-family="Liberation Sans, sans-serif" font-size="18.7" letter-spacing="1.224" fill="#000" stroke="#000" stroke-width="0.3" >16 Sep 20:00</text>
<text x="448.06" y="738" font-family="Liberation Sans, sans-serif" font-size="18.7" letter-spacing="0.937" fill="#000" stroke="#000" stroke-width="0.3" >21 Sep 12:00</text>
<text x="639.77" y="738" font-family="Liberation Sans, sans-serif" font-size="18.7" letter-spacing="1.291" fill="#000" stroke="#000" stroke-width="0.3" >24 Sep 04:00</text>
<text x="832.17" y="738" font-family="Liberation Sans, sans-serif" font-size="18.7" letter-spacing="1.246" fill="#000" stroke="#000" stroke-width="0.3" >28 Sep 20:00</text>
<text x="1023.2" y="738" font-family="Liberation Sans, sans-serif" font-size="18.7" letter-spacing="1.335" fill="#000" stroke="#000" stroke-width="0.3" >1 Oct 12:00</text>
<text x="1215.77" y="738" font-family="Liberation Sans, sans-serif" font-size="18.7" letter-spacing="1.649" fill="#000" stroke="#000" stroke-width="0.3" >6 Oct 04:00</text>
</svg>
</body></html>
